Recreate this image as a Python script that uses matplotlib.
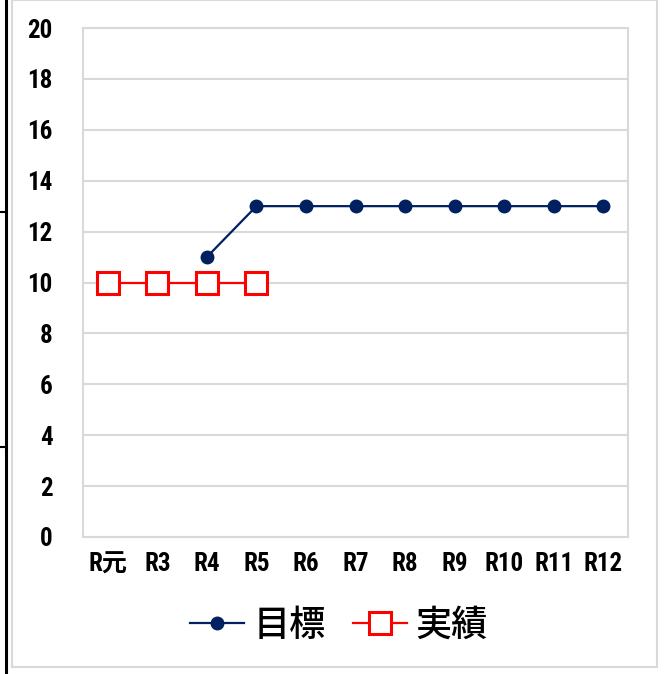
import matplotlib
matplotlib.use("Agg")
import matplotlib.pyplot as plt
from matplotlib.lines import Line2D
from matplotlib.patches import Rectangle
from matplotlib import font_manager

# Data
categories = ["R元", "R3", "R4", "R5", "R6", "R7", "R8", "R9", "R10", "R11", "R12"]
target = [None, None, 11, 13, 13, 13, 13, 13, 13, 13, 13]   # 目標
actual = [10, 10, 10, 10, None, None, None, None, None, None, None]  # 実績
yticks = [0, 2, 4, 6, 8, 10, 12, 14, 16, 18, 20]

# Pick a narrow face for tick labels if one is available
condensed = [f for f in font_manager.fontManager.ttflist
             if f.stretch in ("condensed", "semi-condensed", "extra-condensed")
             or "Narrow" in f.name or "Condensed" in f.name]
narrow_name = None
for pref in ("Liberation Sans Narrow", "Roboto Condensed", "Open Sans Condensed", "DejaVu Sans"):
    if any(f.name == pref for f in condensed):
        narrow_name = pref
        break
if narrow_name is None and condensed:
    narrow_name = condensed[0].name
if narrow_name is None:
    narrow_name = "DejaVu Sans"
tick_family = [narrow_name, "Noto Sans CJK JP"]
cjk_family = ["Noto Sans CJK JP", "DejaVu Sans"]

W, H = 672, 674
fig = plt.figure(figsize=(W / 100, H / 100), dpi=100)
fig.patch.set_facecolor("white")

def px(x0, y0, x1, y1):
    return [x0 / W, 1 - y1 / H, (x1 - x0) / W, (y1 - y0) / H]

# Outer chart frame and left rule
fig.add_artist(Rectangle((12 / W, 1 - 667 / H), (657 - 12) / W, (667 - 0) / H,
                         transform=fig.transFigure, fill=False,
                         edgecolor="#D9D9D9", linewidth=1.5))
fig.add_artist(Line2D([5.5 / W, 5.5 / W], [0, 1], transform=fig.transFigure,
                      color="black", linewidth=2.2))
for yy in (212, 447):
    fig.add_artist(Line2D([0, 5.5 / W], [1 - yy / H, 1 - yy / H],
                          transform=fig.transFigure, color="black", linewidth=1.5))

ax = fig.add_axes(px(83, 28, 628, 537))
x = list(range(len(categories)))

tx = [i for i, v in zip(x, target) if v is not None]
tv = [v for v in target if v is not None]
ax_x = [i for i, v in zip(x, actual) if v is not None]
av = [v for v in actual if v is not None]

ax.plot(tx, tv, color="#002060", linewidth=1.6, marker="o", markersize=9,
        markerfacecolor="#002060", markeredgecolor="#002060", label="目標", zorder=3)
ax.plot(ax_x, av, color="#FF0000", linewidth=1.6, marker="s", markersize=15.5,
        markerfacecolor="white", markeredgecolor="#FF0000", markeredgewidth=2.2,
        label="実績", zorder=4)

ax.set_xlim(-0.5, len(categories) - 0.5)
ax.set_ylim(0, 20)
ax.set_yticks(yticks)
ax.set_xticks(x)
ax.set_xticklabels(categories)
ax.yaxis.grid(True, color="#D9D9D9", linewidth=1.5)
ax.set_axisbelow(True)
for s in ax.spines.values():
    s.set_color("#D9D9D9")
    s.set_linewidth(1.5)
ax.tick_params(axis="both", length=0)
ax.tick_params(axis="y", pad=22)
ax.tick_params(axis="x", pad=11)
for lab in ax.get_xticklabels() + ax.get_yticklabels():
    lab.set_fontfamily(tick_family)
    lab.set_fontweight("bold")
    lab.set_fontstretch("condensed")
    lab.set_fontsize(18)
    lab.set_color("#000000")

leg = fig.legend(loc="center", bbox_to_anchor=(339 / W, 1 - 626 / H), ncol=2,
                 frameon=False, handlelength=1.5, handletextpad=0.25,
                 columnspacing=0.75,
                 prop={"family": cjk_family, "size": 26, "weight": "medium"})

fig.savefig("out.png", dpi=100, facecolor="white")
